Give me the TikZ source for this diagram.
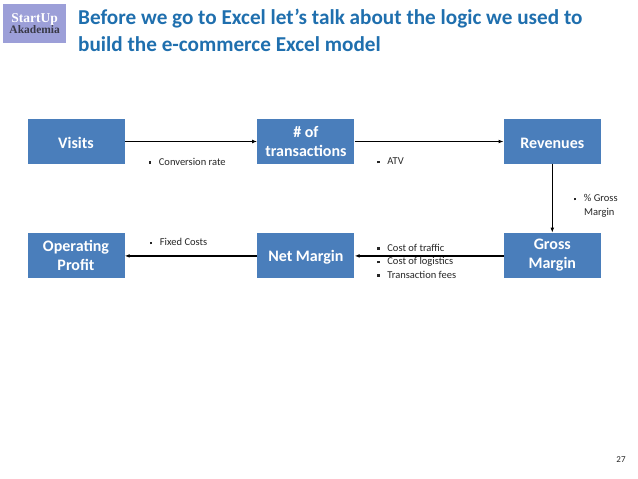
\documentclass[tikz,border=0pt]{standalone}
\usepackage{fontspec}
\setmainfont{Carlito}
\newfontfamily\logofont{Liberation Serif}
\usetikzlibrary{positioning, arrows.meta}
\definecolor{boxBlue}{HTML}{4A7EBB}
\definecolor{titleBlue}{HTML}{1F6FAE}
\definecolor{logoBlue}{HTML}{9C9FD8}
\definecolor{logoDark}{HTML}{3A3A48}
\tikzstyle{flowbox} =[fill=boxBlue, text=white, align=center, minimum width=97pt, minimum height=45pt, inner sep=0pt, font=\fontsize{16}{19}\selectfont\bfseries, execute at begin node=\rule{0pt}{14.5pt}]
\tikzstyle{note} =[align=left, anchor=north west, inner sep=0pt, font=\fontsize{10.5}{13.5}\selectfont, text=black!85]
\newcommand{\sqb}{\rule[1.5pt]{2.6pt}{2.6pt}\hspace{7.6pt}}

\begin{document}
\begin{tikzpicture}
\useasboundingbox (0pt,0pt) rectangle (638pt,-479pt);

\node (logo) [fill=logoBlue, anchor=north west, minimum width=63pt, minimum height=39pt, inner sep=0pt] at (3pt,-4pt) {};
\node (logoTop) [below=15pt of logo.north, inner sep=0pt, anchor=center, text=white, font=\logofont\fontsize{13.5}{13.5}\selectfont\bfseries] {StartUp};
\node (logoBottom) [below=25.5pt of logo.north, inner sep=0pt, anchor=center, text=logoDark, font=\logofont\fontsize{11.5}{11.5}\selectfont\bfseries] {Akademia};

\node (title) [anchor=north west, align=left, inner sep=0pt, text=titleBlue, font=\fontsize{21.2}{27.5}\selectfont\bfseries] at (78pt,-8.5pt) {Before we go to Excel let’s talk about the logic we used to\\build the e-commerce Excel model};

\node (visits) [flowbox] at (76pt,-141pt) {Visits};
\node (trans) [flowbox, right=132.5pt of visits] {\# of\\transactions};
\node (rev) [flowbox, right=149pt of trans] {Revenues};
\node (gross) [flowbox, below=69pt of rev] {Gross\\Margin};
\node (net) [flowbox, below=69pt of trans] {Net Margin};
\node (op) [flowbox, below=69pt of visits] {Operating\\Profit};

\draw[-{Latex[length=5pt]},line width=1.2pt, black] ([yshift=-0.5pt]visits.east) -- ([yshift=-0.5pt]trans.west);
\draw[-{Latex[length=5pt]},line width=1.2pt, black] ([yshift=-0.5pt]trans.east) -- ([yshift=-0.5pt]rev.west);
\draw[-{Latex[length=5pt]},line width=1.2pt, black] (rev) -- (gross);
\draw[-{Latex[length=5pt]},line width=1.2pt, black] ([yshift=-0.5pt]gross.west) -- ([yshift=-0.5pt]net.east);
\draw[-{Latex[length=5pt]},line width=1.2pt, black] ([yshift=-0.5pt]net.west) -- ([yshift=-0.5pt]op.east);

\node (convNote) [note] at (148.5pt,-158pt) {\sqb Conversion rate};
\node (atvNote) [note] at (377pt,-158pt) {\sqb ATV};
\node (marginNote) [note] at (573.5pt,-194.5pt) {\sqb \% Gross\\\hspace{10.4pt}Margin};
\node (fixedNote) [note] at (149.5pt,-238.5pt) {\sqb Fixed Costs};
\node (costNote) [note] at (377pt,-244pt) {\sqb Cost of traffic\\\sqb Cost of logistics\\\sqb Transaction fees};

\node (pageNum) [inner sep=0pt, text=black!85, font=\fontsize{9}{11}\selectfont] at (621pt,-460pt) {27};
\end{tikzpicture}
\end{document}
